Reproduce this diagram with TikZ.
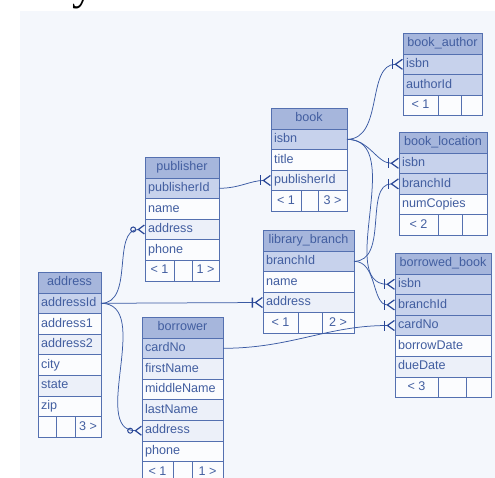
\documentclass[tikz,border=0pt]{standalone}
\usepackage{fontspec}
\setmainfont{Liberation Sans}
\newfontfamily\fragfont{Liberation Serif}
\usepackage{xcolor}
\usepackage{tikz}
\usetikzlibrary{positioning,arrows.meta}
\definecolor{erbg}{RGB}{244,247,252}
\definecolor{erhead}{RGB}{166,182,220}
\definecolor{erkey}{RGB}{199,210,236}
\definecolor{eralt}{RGB}{236,240,249}
\definecolor{erwhite}{RGB}{251,252,254}
\definecolor{erline}{RGB}{84,112,176}
\definecolor{ertext}{RGB}{66,94,160}
\definecolor{erlink}{RGB}{58,90,163}
\definecolor{ertip}{RGB}{40,70,150}

\begin{document}
\begin{tikzpicture}[x=1pt, y=-1pt,
    tbl/.style={draw=erline, line width=0.8pt, inner xsep=3pt, inner ysep=0pt, outer sep=0pt,
      minimum height=20.6pt, text height=9pt, text depth=2.5pt, align=left,
      text=ertext, font=\fontsize{12.6}{14}\selectfont},
    hdr/.style={tbl, fill=erhead, minimum height=21pt, align=center},
    key/.style={tbl, fill=erkey},
    fld/.style={tbl, fill=erwhite},
    alt/.style={tbl, fill=eralt},
    cell/.style={tbl, fill=erwhite, minimum width=#1, inner xsep=0pt, anchor=north west},
    link/.style={draw=erlink, line width=0.75pt},
    onemany/.style={link, -{Bar[width=10pt,line width=1.6pt,sep=1.2pt,color=ertip] Straight Barb[reversed,length=7pt,width=10pt,line width=1.2pt,color=ertip]}},
    zeromany/.style={link, -{Circle[open,length=6pt,width=6pt,line width=1pt,sep=1.2pt,color=ertip] Straight Barb[reversed,length=6pt,width=9pt,line width=1.2pt,color=ertip]}}]

    \useasboundingbox (0,0) rectangle (495,478);
    \fill[erbg] (20,11) rectangle (495,478);
    \node[anchor=base, inner sep=0pt, font=\fragfont\fontsize{44}{44}\selectfont] (frag) at (83,0) {y};

    % book_author
    \begin{scope}[nodes={text width=73pt}]
    \node[hdr, anchor=north west] (ba-hdr) at (403,33) {book\_author};
    \node[key, below=0pt of ba-hdr] (ba-isbn) {isbn};
    \node[key, below=0pt of ba-isbn] (ba-auth) {authorId};
    \end{scope}
    \node[cell=35pt] (ba-f1) at (ba-auth.south west) {< 1};
    \node[cell=23pt] (ba-f2) at (ba-f1.north east) {};
    \node[cell=21pt] (ba-f3) at (ba-f2.north east) {};

    % book
    \begin{scope}[nodes={text width=70pt}]
    \node[hdr, anchor=north west] (bk-hdr) at (271,108) {book};
    \node[key, below=0pt of bk-hdr] (bk-isbn) {isbn};
    \node[fld, below=0pt of bk-isbn] (bk-title) {title};
    \node[alt, below=0pt of bk-title] (bk-pub) {publisherId};
    \end{scope}
    \node[cell=30pt] (bk-f1) at (bk-pub.south west) {< 1};
    \node[cell=17pt] (bk-f2) at (bk-f1.north east) {};
    \node[cell=29pt] (bk-f3) at (bk-f2.north east) {3 >};

    % book_location
    \begin{scope}[nodes={text width=82pt}]
    \node[hdr, anchor=north west] (bl-hdr) at (399,132) {book\_location};
    \node[key, below=0pt of bl-hdr] (bl-isbn) {isbn};
    \node[key, below=0pt of bl-isbn] (bl-branch) {branchId};
    \node[fld, below=0pt of bl-branch] (bl-copies) {numCopies};
    \end{scope}
    \node[cell=39pt] (bl-f1) at (bl-copies.south west) {< 2};
    \node[cell=24pt] (bl-f2) at (bl-f1.north east) {};
    \node[cell=25pt] (bl-f3) at (bl-f2.north east) {};

    % publisher
    \begin{scope}[nodes={text width=68pt}]
    \node[hdr, anchor=north west] (pb-hdr) at (145,157) {publisher};
    \node[key, below=0pt of pb-hdr] (pb-id) {publisherId};
    \node[fld, below=0pt of pb-id] (pb-name) {name};
    \node[alt, below=0pt of pb-name] (pb-addr) {address};
    \node[fld, below=0pt of pb-addr] (pb-phone) {phone};
    \end{scope}
    \node[cell=29pt] (pb-f1) at (pb-phone.south west) {< 1};
    \node[cell=18pt] (pb-f2) at (pb-f1.north east) {};
    \node[cell=27pt] (pb-f3) at (pb-f2.north east) {1 >};

    % library_branch
    \begin{scope}[nodes={text width=85pt}]
    \node[hdr, anchor=north west] (lb-hdr) at (263,230) {library\_branch};
    \node[key, below=0pt of lb-hdr] (lb-branch) {branchId};
    \node[fld, below=0pt of lb-branch] (lb-name) {name};
    \node[alt, below=0pt of lb-name] (lb-addr) {address};
    \end{scope}
    \node[cell=35pt] (lb-f1) at (lb-addr.south west) {< 1};
    \node[cell=24pt] (lb-f2) at (lb-f1.north east) {};
    \node[cell=32pt] (lb-f3) at (lb-f2.north east) {2 >};

    % borrowed_book
    \begin{scope}[nodes={text width=90pt}]
    \node[hdr, anchor=north west] (bb-hdr) at (395,253) {borrowed\_book};
    \node[key, below=0pt of bb-hdr] (bb-isbn) {isbn};
    \node[key, below=0pt of bb-isbn] (bb-branch) {branchId};
    \node[key, below=0pt of bb-branch] (bb-card) {cardNo};
    \node[fld, below=0pt of bb-card] (bb-out) {borrowDate};
    \node[alt, below=0pt of bb-out] (bb-due) {dueDate};
    \end{scope}
    \node[cell=43pt] (bb-f1) at (bb-due.south west) {< 3};
    \node[cell=28pt] (bb-f2) at (bb-f1.north east) {};
    \node[cell=25pt] (bb-f3) at (bb-f2.north east) {};

    % address
    \begin{scope}[nodes={text width=57pt}]
    \node[hdr, anchor=north west] (ad-hdr) at (38,272) {address};
    \node[key, below=0pt of ad-hdr] (ad-id) {addressId};
    \node[fld, below=0pt of ad-id] (ad-one) {address1};
    \node[alt, below=0pt of ad-one] (ad-two) {address2};
    \node[fld, below=0pt of ad-two] (ad-city) {city};
    \node[alt, below=0pt of ad-city] (ad-state) {state};
    \node[fld, below=0pt of ad-state] (ad-zip) {zip};
    \end{scope}
    \node[cell=18pt] (ad-f1) at (ad-zip.south west) {};
    \node[cell=19pt] (ad-f2) at (ad-f1.north east) {};
    \node[cell=26pt] (ad-f3) at (ad-f2.north east) {3 >};

    % borrower
    \begin{scope}[nodes={text width=75pt}]
    \node[hdr, anchor=north west] (br-hdr) at (142,317) {borrower};
    \node[key, below=0pt of br-hdr] (br-card) {cardNo};
    \node[alt, below=0pt of br-card] (br-first) {firstName};
    \node[fld, below=0pt of br-first] (br-middle) {middleName};
    \node[alt, below=0pt of br-middle] (br-last) {lastName};
    \node[alt, below=0pt of br-last] (br-addr) {address};
    \node[fld, below=0pt of br-addr] (br-phone) {phone};
    \end{scope}
    \node[cell=31pt] (br-f1) at (br-phone.south west) {< 1};
    \node[cell=19pt] (br-f2) at (br-f1.north east) {};
    \node[cell=31pt] (br-f3) at (br-f2.north east) {1 >};

    % relationships
    \draw[onemany] (bk-isbn.east) to[out=0, in=180] (ba-isbn.west);
    \draw[onemany] (bk-isbn.east) to[out=0, in=180] (bl-isbn.west);
    \draw[onemany] (bk-isbn.east) to[out=0, in=180] (bb-isbn.west);
    \draw[onemany] (lb-branch.east) to[out=0, in=180] (bl-branch.west);
    \draw[onemany] (lb-branch.east) to[out=0, in=180] (bb-branch.west);
    \draw[onemany] (pb-id.east) to[out=0, in=180] (bk-pub.west);
    \draw[onemany] (ad-id.east) -- (lb-addr.west);
    \draw[onemany] (br-card.east) to[out=0, in=180] (bb-card.west);
    \draw[zeromany] (ad-id.east) to[out=0, in=180] (pb-addr.west);
    \draw[zeromany] (ad-id.east) to[out=0, in=180] (br-addr.west);
\end{tikzpicture}
\end{document}
